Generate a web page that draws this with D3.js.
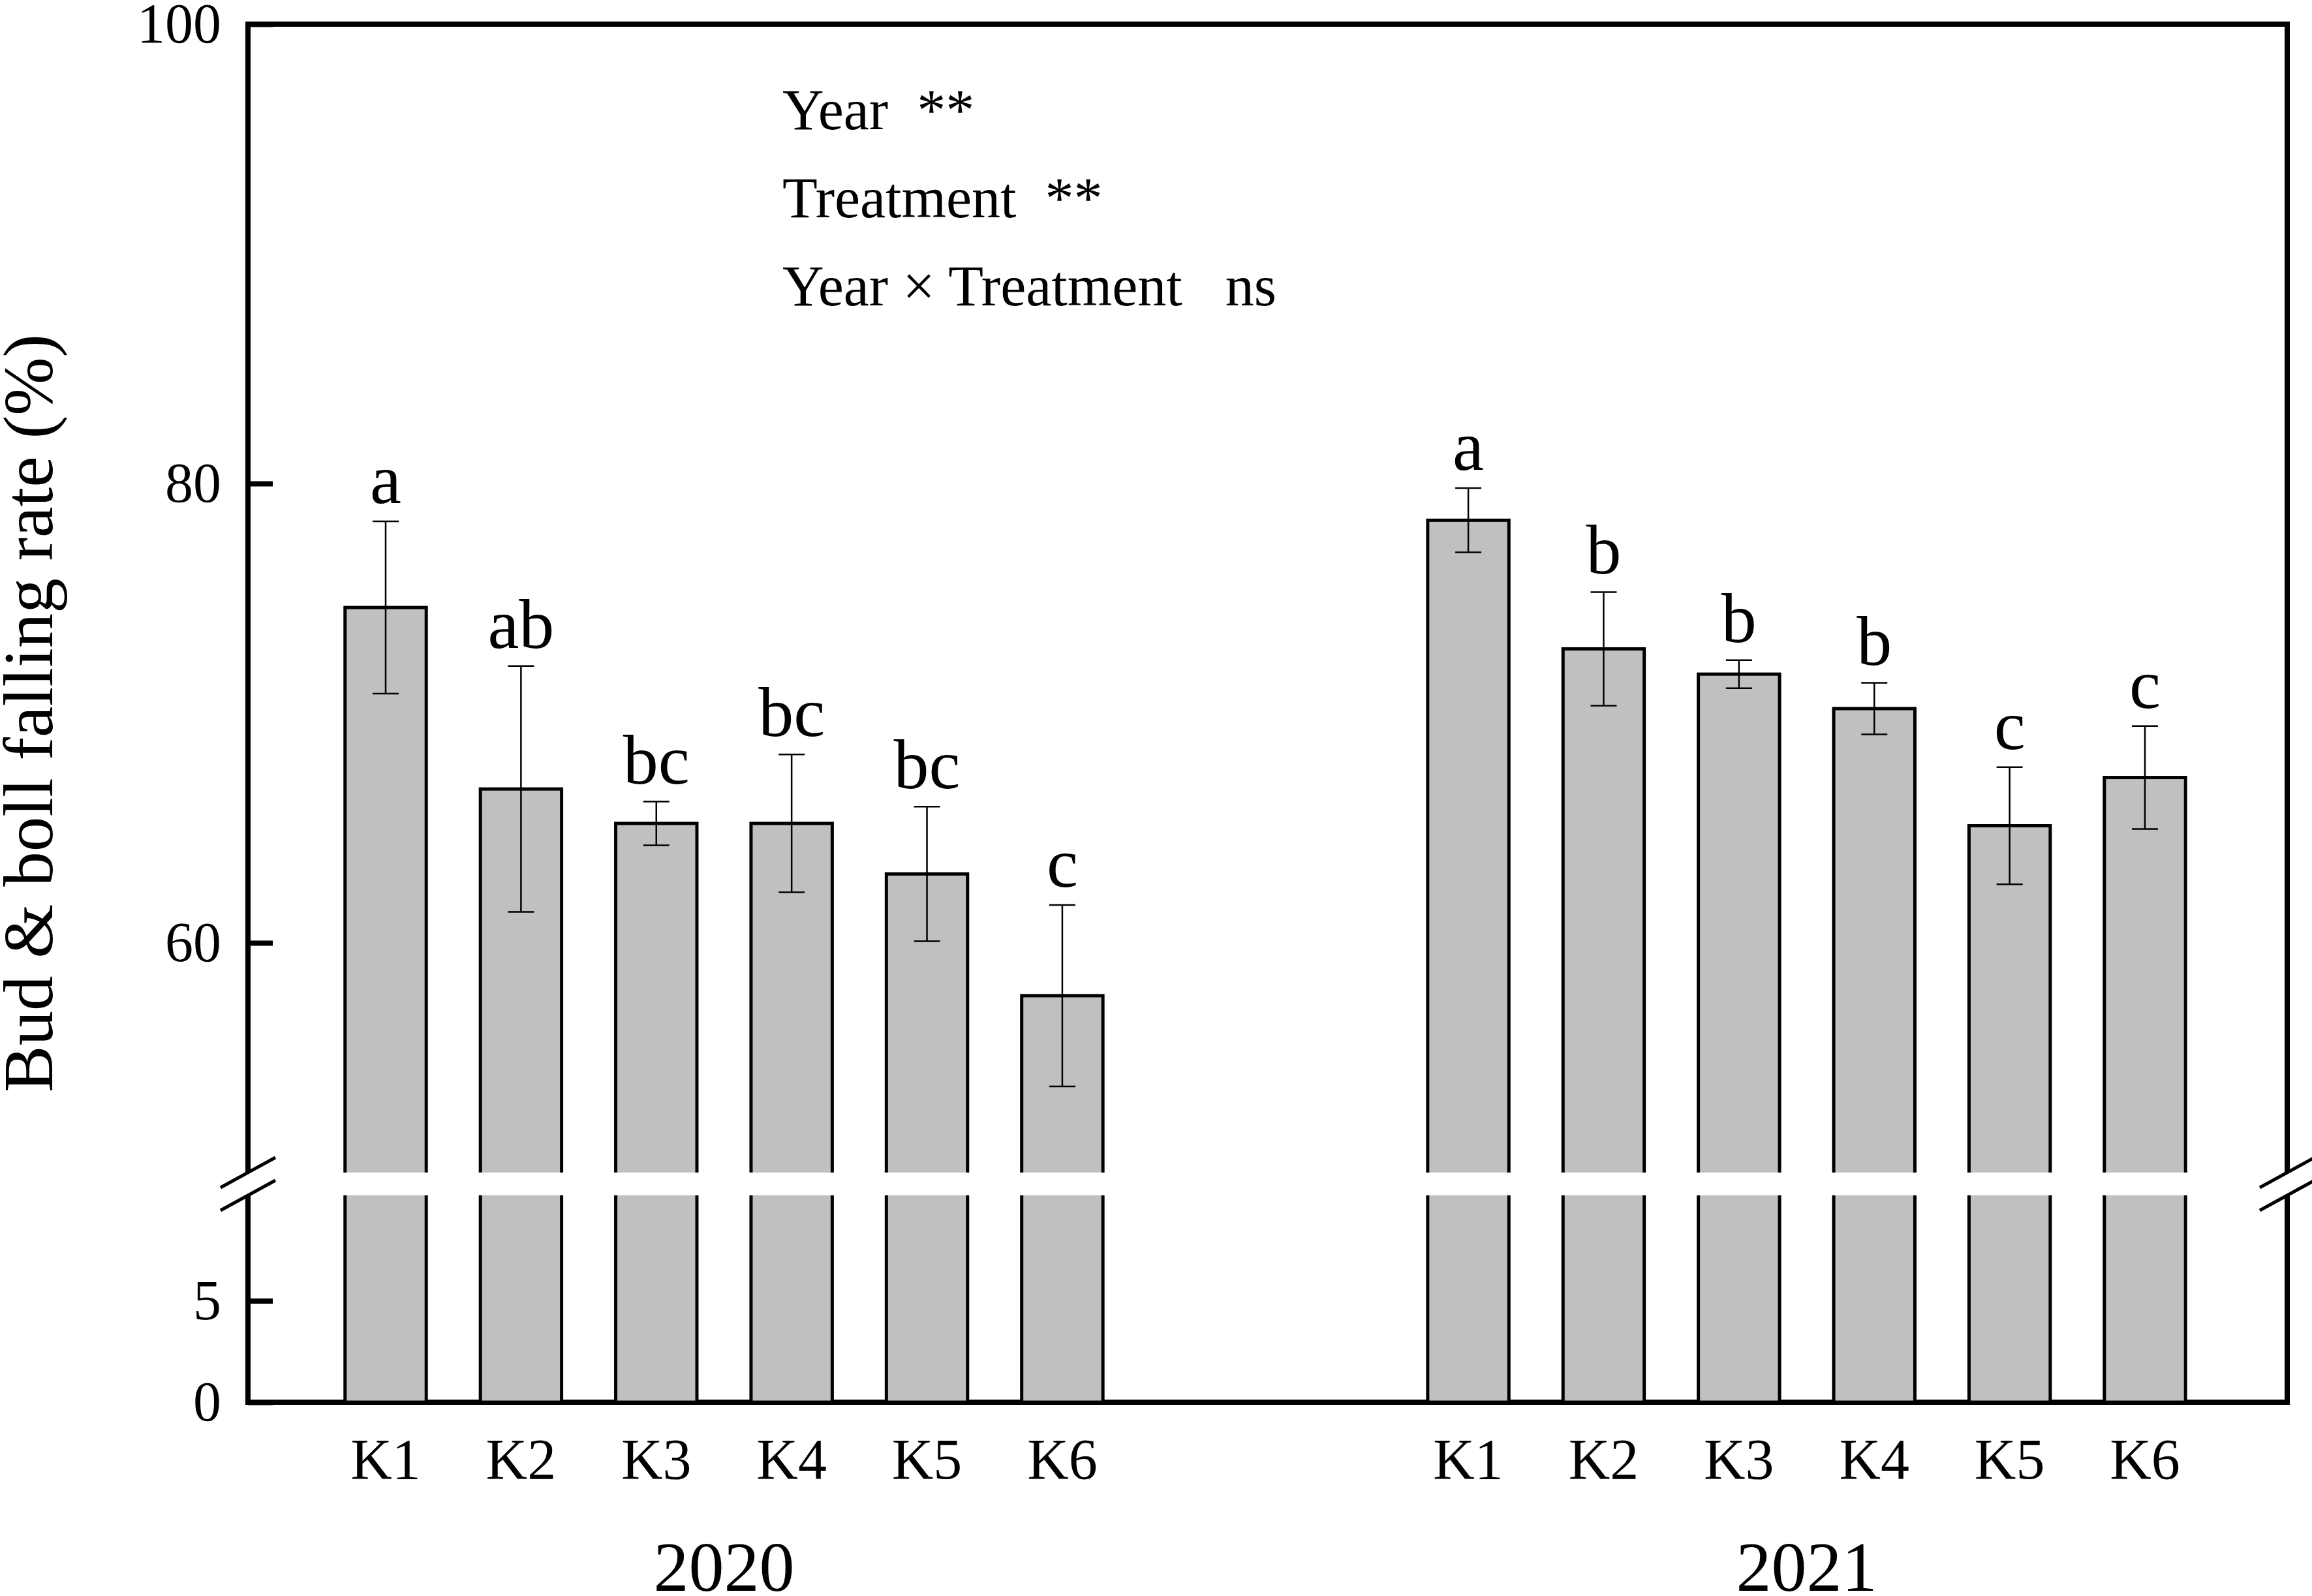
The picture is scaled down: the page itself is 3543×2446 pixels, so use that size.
<!DOCTYPE html>
<html>
<head>
<meta charset="utf-8">
<script src="https://cdn.jsdelivr.net/npm/d3@7"></script>
<style>
  body { margin: 0; background: #fff; }
  svg { display: block; }
  text { font-family: "Liberation Serif", "Times New Roman", serif; fill: #000; }
</style>
</head>
<body>
<div id="chart"></div>
<script>
// values
const treatments = ["K1", "K2", "K3", "K4", "K5", "K6"];
const years = ["2020", "2021"];
const rate2020 = [74.6, 66.7, 65.2, 65.2, 63.0, 57.7];
const se2020 = [3.75, 5.35, 0.95, 3.0, 2.93, 3.95];
const letters2020 = ["a", "ab", "bc", "bc", "bc", "c"];
const rate2021 = [78.4, 72.8, 71.7, 70.2, 65.1, 67.2];
const se2021 = [1.4, 2.47, 0.61, 1.12, 2.55, 2.24];
const letters2021 = ["a", "b", "b", "b", "c", "c"];
const yTicks = [0, 5, 60, 80, 100];
const statLabels = ["Year  **", "Treatment  **", "Year \u00d7 Treatment   ns"];

const W = 3543, H = 2446;
const plot = { left: 380, right: 3505, top: 37, bottom: 2149 };

const rows = [];
years.forEach((yr, yi) => {
  const vals = yi === 0 ? rate2020 : rate2021;
  const se = yi === 0 ? se2020 : se2021;
  const lt = yi === 0 ? letters2020 : letters2021;
  treatments.forEach((t, i) => {
    rows.push({ key: yr + "-" + t, year: yr, name: t, value: vals[i], se: se[i], letter: lt[i] });
  });
});

const slots = rows.slice(0, 6).map(d => d.key)
  .concat(["gap1", "gap2"])
  .concat(rows.slice(6).map(d => d.key));

const x = d3.scaleBand()
  .domain(slots)
  .range([487.3, 3390.7])
  .paddingInner(0.4)
  .paddingOuter(0.2);

// broken axis: 0-10.2 below the break, 50-100 above
const y = d3.scaleLinear()
  .domain([0, 10.2, 50, 100])
  .range([plot.bottom, 1832, 1797, plot.top]);

const svg = d3.select("#chart").append("svg")
  .attr("width", W)
  .attr("height", H);

// frame
svg.append("rect")
  .attr("x", plot.left).attr("y", plot.top)
  .attr("width", plot.right - plot.left).attr("height", plot.bottom - plot.top)
  .attr("fill", "none").attr("stroke", "#000").attr("stroke-width", 8);

// y ticks (inward)
const yAxis = svg.append("g")
  .attr("transform", `translate(${plot.left},0)`)
  .call(d3.axisLeft(y).tickValues(yTicks).tickSize(-38).tickPadding(41).tickFormat(d3.format("d")));
yAxis.select(".domain").remove();
yAxis.selectAll(".tick line").attr("stroke", "#000").attr("stroke-width", 8);
yAxis.selectAll(".tick text")
  .style("font-family", "Liberation Serif")
  .style("font-size", "86px")
  .attr("fill", "#000");

// bars
svg.append("g").selectAll("rect")
  .data(rows)
  .join("rect")
  .attr("x", d => x(d.key))
  .attr("y", d => y(d.value))
  .attr("width", x.bandwidth())
  .attr("height", d => y(0) - y(d.value))
  .attr("fill", "#c0c0c0")
  .attr("stroke", "#000")
  .attr("stroke-width", 5);

// break band
svg.append("rect")
  .attr("x", plot.left - 10).attr("y", y(50))
  .attr("width", plot.right - plot.left + 20).attr("height", y(10.2) - y(50))
  .attr("fill", "#fff");

// break marks
const slash = [y(50), y(10.2)];
[plot.left, plot.right].forEach(ax => {
  svg.append("g").selectAll("line")
    .data(slash)
    .join("line")
    .attr("x1", ax - 42).attr("y1", d => d + 23)
    .attr("x2", ax + 42).attr("y2", d => d - 23)
    .attr("stroke", "#000").attr("stroke-width", 5);
});

// error bars
const cx = d => x(d.key) + x.bandwidth() / 2;
const err = svg.append("g").attr("stroke", "#000").attr("stroke-width", 2.5);
err.selectAll(".stem").data(rows).join("line")
  .attr("x1", cx).attr("x2", cx)
  .attr("y1", d => y(d.value + d.se)).attr("y2", d => y(d.value - d.se));
err.selectAll(".capTop").data(rows).join("line")
  .attr("x1", d => cx(d) - 20).attr("x2", d => cx(d) + 20)
  .attr("y1", d => y(d.value + d.se)).attr("y2", d => y(d.value + d.se));
err.selectAll(".capBot").data(rows).join("line")
  .attr("x1", d => cx(d) - 20).attr("x2", d => cx(d) + 20)
  .attr("y1", d => y(d.value - d.se)).attr("y2", d => y(d.value - d.se));

// significance letters
svg.append("g").selectAll("text")
  .data(rows)
  .join("text")
  .attr("x", cx)
  .attr("y", d => y(d.value + d.se) - 28)
  .attr("text-anchor", "middle")
  .style("font-size", "108px")
  .text(d => d.letter);

// treatment labels
svg.append("g").selectAll("text")
  .data(rows)
  .join("text")
  .attr("x", cx)
  .attr("y", 2266)
  .attr("text-anchor", "middle")
  .style("font-size", "88px")
  .text(d => d.name);

// year labels
svg.append("g").selectAll("text")
  .data(years)
  .join("text")
  .attr("x", yr => {
    const r = rows.filter(d => d.year === yr);
    return (cx(r[0]) + cx(r[r.length - 1])) / 2;
  })
  .attr("y", 2438)
  .attr("text-anchor", "middle")
  .style("font-size", "108px")
  .text(d => d);

// statistics annotation
svg.append("g").selectAll("text")
  .data(statLabels)
  .join("text")
  .attr("x", 1199)
  .attr("y", (d, i) => 198 + i * 135)
  .style("font-size", "88px")
  .style("white-space", "pre")
  .text(d => d);

// y axis title
svg.append("text")
  .attr("transform", `translate(80,${(plot.top + plot.bottom) / 2}) rotate(-90)`)
  .attr("text-anchor", "middle")
  .style("font-size", "107px")
  .text("Bud & boll falling rate (%)");
</script>
</body>
</html>
